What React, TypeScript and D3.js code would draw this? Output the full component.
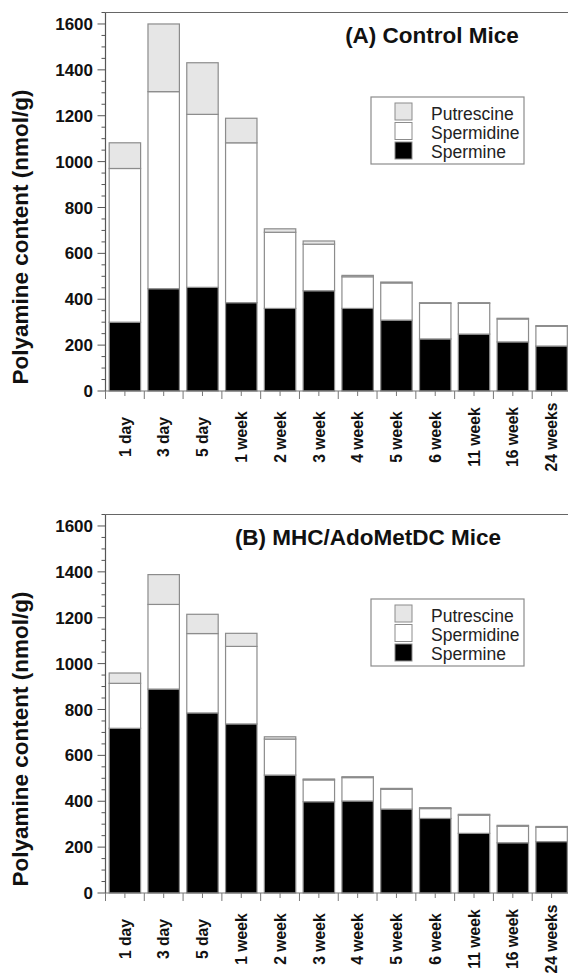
import React, { useEffect, useRef } from 'react';
import * as d3 from 'd3';

const categories = ['1 day', '3 day', '5 day', '1 week', '2 week', '3 week', '4 week', '5 week', '6 week', '11 week', '16 week', '24 weeks'];
const yTicks = [0, 200, 400, 600, 800, 1000, 1200, 1400, 1600];
const seriesNames = ['Putrescine', 'Spermidine', 'Spermine'];

// (A) control mice, nmol/g
const controlSpermine = [300, 446, 452, 385, 360, 437, 360, 309, 227, 248, 214, 196];
const controlSpermidine = [670, 859, 754, 697, 332, 203, 138, 162, 155, 134, 100, 86];
const controlPutrescine = [112, 295, 225, 107, 15, 14, 6, 4, 3, 3, 3, 3];

// (B) MHC/AdoMetDC mice, nmol/g
const mhcSpermine = [718, 889, 785, 737, 514, 398, 401, 366, 325, 260, 219, 224];
const mhcSpermidine = [196, 369, 346, 338, 157, 95, 102, 86, 43, 79, 72, 62];
const mhcPutrescine = [45, 130, 84, 57, 10, 4, 4, 4, 4, 4, 4, 4];

const FONT = '"Liberation Sans", Arial, Helvetica, sans-serif';
const fills: Record<string, string> = { spermine: '#000', spermidine: '#fff', putrescine: '#e6e6e6' };

type PanelOpts = {
  top: number;
  title: string;
  titleX: number;
  spermine: number[];
  spermidine: number[];
  putrescine: number[];
};

const drawPanel = (svg: d3.Selection<SVGSVGElement, unknown, null, undefined>, o: PanelOpts) => {
  const g = svg.append('g').attr('transform', `translate(0,${o.top})`);

  const x = d3.scaleBand<string>()
    .domain(categories)
    .range([105.5, 571])
    .paddingInner(0.19)
    .paddingOuter(0.095);
  const y = d3.scaleLinear().domain([0, 1650]).range([391, 12.5]);

  const rows = categories.map((c, i) => ({
    cat: c,
    spermine: o.spermine[i],
    spermidine: o.spermidine[i],
    putrescine: o.putrescine[i],
  }));
  const stacked = d3.stack<any>().keys(['spermine', 'spermidine', 'putrescine'])(rows);

  // bars
  stacked.forEach((layer) => {
    g.append('g')
      .selectAll('rect')
      .data(layer)
      .enter()
      .append('rect')
      .attr('x', (d: any) => x(d.data.cat)!)
      .attr('width', x.bandwidth())
      .attr('y', (d) => y(d[1]))
      .attr('height', (d) => y(d[0]) - y(d[1]))
      .style('fill', fills[layer.key])
      .style('stroke', '#8c8c8c')
      .style('stroke-width', 1.2);
  });

  // frame: y axis, x axis, top line
  const x0 = x.range()[0];
  const x1 = x.range()[1];
  g.append('line').attr('x1', x0).attr('x2', x0).attr('y1', y(0)).attr('y2', y(1650))
    .style('stroke', '#555').style('stroke-width', 1.2);
  g.append('line').attr('x1', x0).attr('x2', x1).attr('y1', y(0)).attr('y2', y(0))
    .style('stroke', '#777').style('stroke-width', 1.2);
  g.append('line').attr('x1', x0).attr('x2', x1).attr('y1', y(1650)).attr('y2', y(1650))
    .style('stroke', '#666').style('stroke-width', 1.2);

  // y ticks
  d3.range(0, 1651, 50).forEach((v) => {
    const major = v % 200 === 0;
    g.append('line')
      .attr('x1', x0).attr('x2', x0 - (major ? 8 : 4))
      .attr('y1', y(v)).attr('y2', y(v))
      .style('stroke', '#555').style('stroke-width', 1);
  });
  g.selectAll('.ylab')
    .data(yTicks)
    .enter()
    .append('text')
    .attr('x', 93)
    .attr('y', (d) => y(d))
    .attr('dy', '0.36em')
    .style('text-anchor', 'end')
    .style('font-family', FONT)
    .style('font-weight', 'bold')
    .style('font-size', '17px')
    .style('fill', '#111')
    .text((d) => d);

  // x ticks: major at band edges, minor at centres
  const step = x.step();
  d3.range(0, categories.length + 1).forEach((i) => {
    g.append('line')
      .attr('x1', x0 + i * step).attr('x2', x0 + i * step)
      .attr('y1', y(0)).attr('y2', y(0) + 8)
      .style('stroke', '#777').style('stroke-width', 1);
  });
  categories.forEach((c) => {
    const cx = x(c)! + x.bandwidth() / 2;
    g.append('line')
      .attr('x1', cx).attr('x2', cx)
      .attr('y1', y(0)).attr('y2', y(0) + 5)
      .style('stroke', '#777').style('stroke-width', 1);
    g.append('text')
      .attr('transform', `translate(${cx},${y(0) + 46}) rotate(-90)`)
      .attr('dy', '0.36em')
      .style('text-anchor', 'middle')
      .style('font-family', FONT)
      .style('font-weight', 'bold')
      .style('font-size', '15.7px')
      .style('fill', '#111')
      .text(c);
  });

  // y axis title
  g.append('text')
    .attr('transform', `translate(28,237) rotate(-90)`)
    .style('text-anchor', 'middle')
    .style('font-family', FONT)
    .style('font-weight', 'bold')
    .style('font-size', '22.5px')
    .style('fill', '#111')
    .text('Polyamine content (nmol/g)');

  // panel title
  g.append('text')
    .attr('x', o.titleX)
    .attr('y', 43)
    .style('text-anchor', 'middle')
    .style('font-family', FONT)
    .style('font-weight', 'bold')
    .style('font-size', '22.5px')
    .style('fill', '#111')
    .text(o.title);

  // legend
  const lg = g.append('g');
  lg.append('rect')
    .attr('x', 371).attr('y', 97).attr('width', 153).attr('height', 67)
    .style('fill', '#fff').style('stroke', '#8c8c8c').style('stroke-width', 1.2);
  const legendKeys = ['putrescine', 'spermidine', 'spermine'];
  seriesNames.forEach((name, i) => {
    lg.append('rect')
      .attr('x', 395).attr('y', 103 + i * 19.5).attr('width', 17).attr('height', 17)
      .style('fill', fills[legendKeys[i]])
      .style('stroke', '#8c8c8c').style('stroke-width', 1);
    lg.append('text')
      .attr('x', 431).attr('y', 120 + i * 19.2)
      .style('font-family', FONT)
      .style('font-size', '17.5px')
      .style('fill', '#222')
      .text(name);
  });
};

const App = () => {
  const ref = useRef<SVGSVGElement>(null);

  useEffect(() => {
    const svg = d3.select(ref.current!);
    svg.selectAll('*').remove();
    drawPanel(svg, {
      top: 0,
      title: '(A) Control Mice',
      titleX: 432,
      spermine: controlSpermine,
      spermidine: controlSpermidine,
      putrescine: controlPutrescine,
    });
    drawPanel(svg, {
      top: 502,
      title: '(B) MHC/AdoMetDC Mice',
      titleX: 368,
      spermine: mhcSpermine,
      spermidine: mhcSpermidine,
      putrescine: mhcPutrescine,
    });
  }, []);

  return (
    <svg
      ref={ref}
      width={568}
      height={976}
      style={{ position: 'absolute', left: 0, top: 0, background: '#fff' }}
    />
  );
};

export default App;
